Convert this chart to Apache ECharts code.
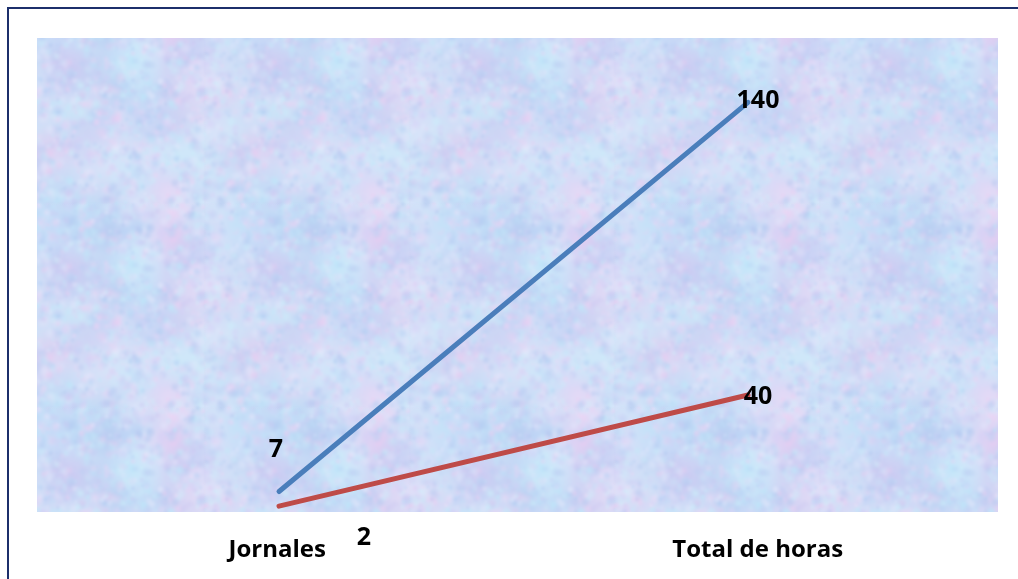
<!DOCTYPE html>
<html>
<head>
<meta charset="utf-8">
<script src="https://cdn.jsdelivr.net/npm/echarts@6/dist/echarts.min.js"></script>
<style>
  html, body { margin: 0; padding: 0; background: #ffffff; }
  #chart { width: 1018px; height: 579px; }
</style>
</head>
<body>
<div id="chart"></div>
<script>
// Categories and values
const categories = ['Jornales', 'Total de horas'];
const seriesA = [7, 140];   // blue line
const seriesB = [2, 40];    // red line

// Per-point label offsets (visual placement of the value labels)
const labelOffsetsA = [[-3, -42], [10, -1]];
const labelOffsetsB = [[85, 32], [10, 2]];

// Soft, mottled pastel texture for the plot background (deterministic)
function makeTexture() {
  const w = 205, h = 204;
  const c = document.createElement('canvas');
  c.width = w; c.height = h;
  const g = c.getContext('2d');
  g.fillStyle = '#d0def7';
  g.fillRect(0, 0, w, h);
  let s = 987654;
  const rnd = () => { s = (s * 1103515245 + 12345) & 0x7fffffff; return s / 0x7fffffff; };
  const cols = [
    [180, 208, 244], [212, 206, 246], [236, 204, 240], [188, 234, 250],
    [230, 234, 252], [172, 196, 238], [240, 212, 244], [204, 240, 250],
    [200, 196, 240]
  ];
  function blob(x, y, r, col, a) {
    for (let dx = -w; dx <= w; dx += w) {
      for (let dy = -h; dy <= h; dy += h) {
        const grd = g.createRadialGradient(x + dx, y + dy, 0, x + dx, y + dy, r);
        grd.addColorStop(0, 'rgba(' + col.join(',') + ',' + a + ')');
        grd.addColorStop(1, 'rgba(' + col.join(',') + ',0)');
        g.fillStyle = grd;
        g.beginPath();
        g.arc(x + dx, y + dy, r, 0, Math.PI * 2);
        g.fill();
      }
    }
  }
  // broad colour patches
  for (let i = 0; i < 70; i++) {
    blob(rnd() * w, rnd() * h, 16 + rnd() * 28, cols[Math.floor(rnd() * cols.length)], 0.3 + rnd() * 0.35);
  }
  // fine mottling
  for (let i = 0; i < 1400; i++) {
    blob(rnd() * w, rnd() * h, 2 + rnd() * 5, cols[Math.floor(rnd() * cols.length)], 0.22 + rnd() * 0.3);
  }
  // soften
  const out = document.createElement('canvas');
  out.width = w; out.height = h;
  const o = out.getContext('2d');
  o.drawImage(c, 0, 0);
  o.filter = 'blur(0.8px)';
  for (let dx = -w; dx <= w; dx += w) {
    for (let dy = -h; dy <= h; dy += h) o.drawImage(c, dx, dy);
  }
  return out;
}

const chart = echarts.init(document.getElementById('chart'), null, { renderer: 'canvas' });

const labelFont = { fontFamily: 'Open Sans', fontWeight: 'bold', fontSize: 25, color: '#000' };

function buildData(vals, offs) {
  return vals.map((v, i) => ({
    value: [i, v],
    label: { offset: offs[i] }
  }));
}

function lineSeries(vals, offs, color) {
  return {
    type: 'line',
    xAxisIndex: 1,
    data: buildData(vals, offs),
    symbol: 'circle',
    symbolSize: 2,
    showSymbol: true,
    itemStyle: { color: color },
    lineStyle: { color: color, width: 5, cap: 'round' },
    label: Object.assign({ show: true, position: 'inside', formatter: p => p.value[1] }, labelFont)
  };
}

chart.setOption({
  animation: false,
  backgroundColor: '#ffffff',
  graphic: [{
    type: 'rect',
    shape: { x: 8, y: 8, width: 1030, height: 600 },
    style: { fill: 'none', stroke: '#1c2f6b', lineWidth: 2 },
    silent: true
  }],
  grid: {
    left: 37, top: 38, width: 961, height: 474,
    show: true,
    borderWidth: 0,
    backgroundColor: { image: makeTexture(), repeat: 'repeat' }
  },
  xAxis: [{
    type: 'category',
    data: categories,
    boundaryGap: true,
    axisLine: { show: false },
    axisTick: { show: false },
    splitLine: { show: false },
    axisLabel: {
      margin: 26,
      fontFamily: 'Open Sans', fontWeight: 'bold', fontSize: 24, color: '#000'
    }
  }, {
    // positional axis for the line points
    type: 'value',
    min: -0.516, max: 1.533,
    show: false
  }],
  yAxis: {
    type: 'value',
    min: 0, max: 162,
    show: false,
    splitLine: { show: false }
  },
  series: [
    lineSeries(seriesA, labelOffsetsA, '#4a7ebb'),
    lineSeries(seriesB, labelOffsetsB, '#be4b48')
  ]
});
</script>
</body>
</html>
